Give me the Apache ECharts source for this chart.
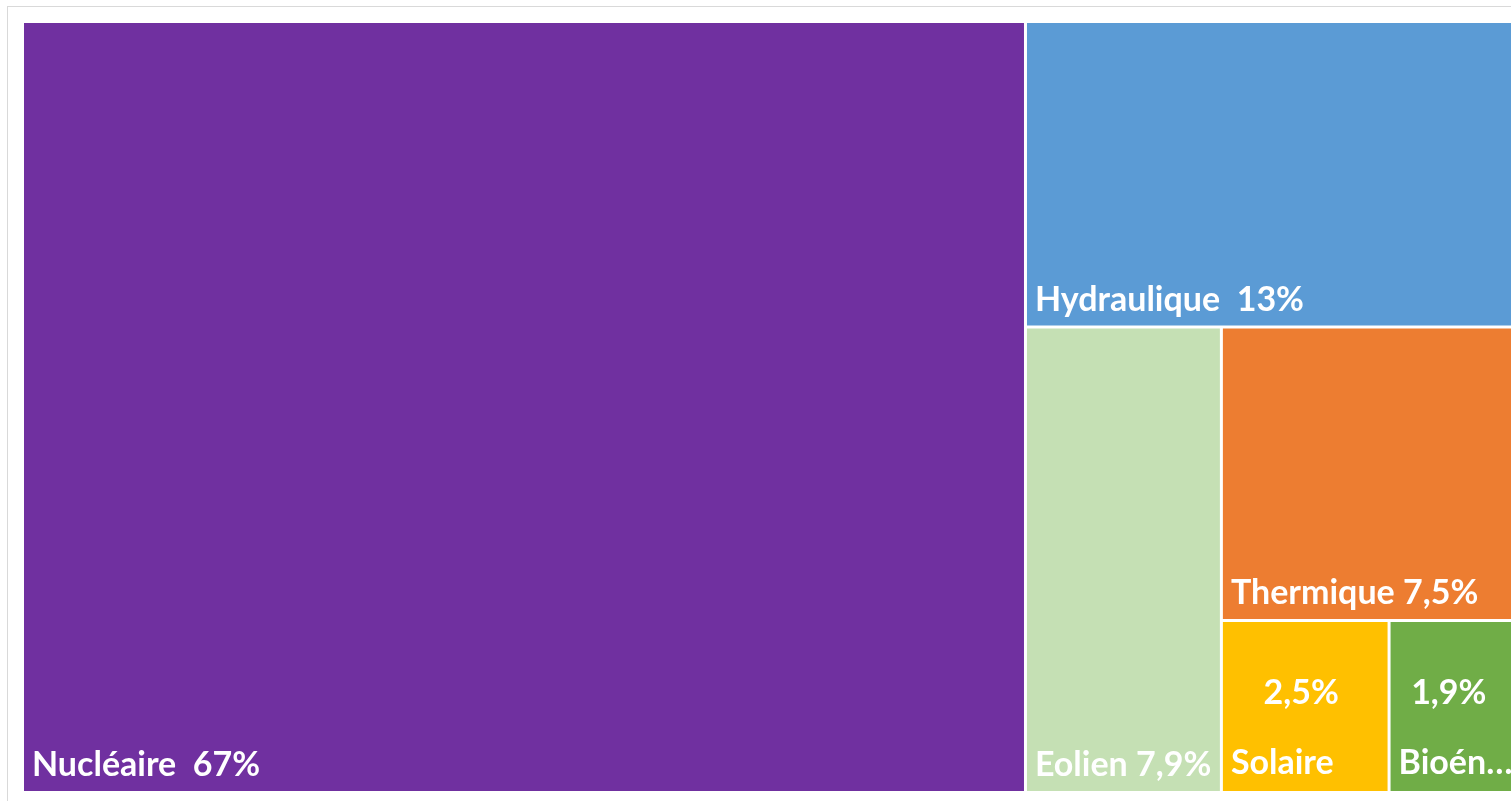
<!DOCTYPE html>
<html>
<head>
<meta charset="utf-8">
<script src="https://cdn.jsdelivr.net/npm/echarts@6/dist/echarts.min.js"></script>
<style>
    html, body { margin: 0; padding: 0; background: #fff; overflow: hidden; }
    #frame { position: absolute; left: 7px; top: 6px; width: 1530px; height: 820px; border: 1px solid #d9d9d9; }
    #main { position: absolute; left: 0; top: 0; width: 1511px; height: 801px; }
</style>
</head>
<body>
<div id="frame"></div>
<div id="main"></div>
<script>
// parts of electricity production (%)
var names = ['Nucléaire', 'Hydraulique', 'Eolien', 'Thermique', 'Solaire', 'Bioénergies'];
var values = [67, 13, 7.9, 7.5, 2.5, 1.9];
var colors = ['#7030A0', '#5B9BD5', '#C5E0B4', '#ED7D31', '#FFC000', '#70AD47'];
// small boxes where the value sits above the name
var stacked = [4, 5];
// big boxes with a wider space between name and value
var wide = [0, 1];

var fmt = function (v) {
    return String(v).replace('.', ',') + '%';
};

var txt = {fontSize: 34, fontWeight: 'bold', color: '#fff', fontFamily: 'Lato', lineHeight: 36};

var leaf = function (i) {
    var item = {
        name: names[i],
        value: values[i],
        itemStyle: {color: colors[i]}
    };
    if (stacked.indexOf(i) >= 0) {
        item.label = {
            position: 'insideTopLeft',
            formatter: function (p) {
                return '{a|}\n{v|' + fmt(p.value) + '}\n{b|}\n{n|' + p.name + '}';
            },
            rich: {
                a: {lineHeight: 45},
                v: Object.assign({align: 'center', padding: [0, 24, 0, 0]}, txt),
                b: {lineHeight: 34},
                n: txt
            }
        };
    } else if (wide.indexOf(i) >= 0) {
        item.label = {
            formatter: function (p) {
                return p.name + '  ' + fmt(p.value);
            }
        };
    }
    return item;
};

// nest the items so the layout follows the slice-by-slice order of the original
var nest = function (i) {
    if (i >= names.length - 2) {
        return [leaf(i), leaf(i + 1)];
    }
    return [leaf(i), {name: '', children: nest(i + 1)}];
};

var treeChart = function () {
    var box = echarts.init(document.getElementById('main'));
    var option = {
        animation: false,
        series: [{
            type: 'treemap',
            left: 24,
            top: 23,
            width: 1491,
            height: 768,
            roam: false,
            nodeClick: false,
            sort: false,
            squareRatio: 1,
            breadcrumb: {show: false},
            itemStyle: {
                borderWidth: 0,
                gapWidth: 3,
                borderColor: '#fff'
            },
            label: Object.assign({
                show: true,
                position: 'insideBottomLeft',
                distance: 8,
                padding: 0,
                ellipsis: '…',
                formatter: function (p) {
                    return p.name + ' ' + fmt(p.value);
                }
            }, txt),
            upperLabel: {show: false},
            data: nest(0)
        }]
    };
    box.setOption(option);
};

treeChart();
</script>
</body>
</html>
